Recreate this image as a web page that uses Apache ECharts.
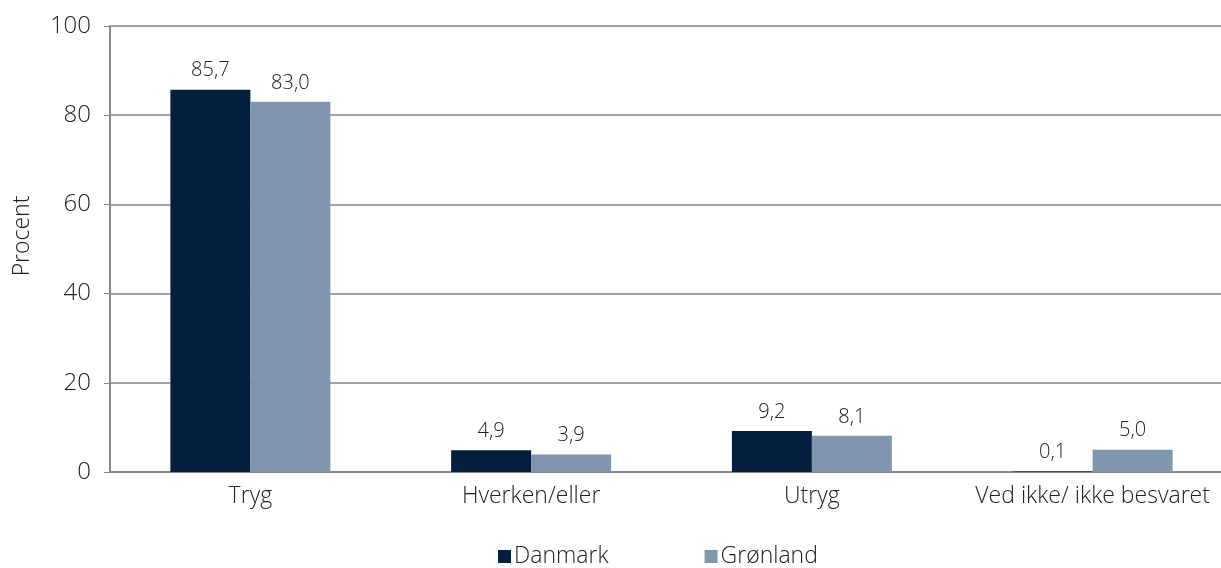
<!DOCTYPE html>
<html>
<head>
<meta charset="utf-8">
<script src="https://cdn.jsdelivr.net/npm/echarts@6/dist/echarts.min.js"></script>
<style>
  html, body { margin: 0; padding: 0; background: #fff; }
  #chart { width: 1221px; height: 568px; }
</style>
</head>
<body>
<div id="chart"></div>
<script>
var categories = ['Tryg', 'Hverken/eller', 'Utryg', 'Ved ikke/ ikke besvaret'];
var danmark = [85.7, 4.9, 9.2, 0.1];
var groenland = [83.0, 3.9, 8.1, 5.0];
var yTicks = [0, 20, 40, 60, 80, 100];

var font = 'Open Sans';
var fmt = function (p) { return p.value.toFixed(1).replace('.', ','); };

var myChart = echarts.init(document.getElementById('chart'));
var option = {
    animation: false,
    textStyle: { fontFamily: font, fontWeight: 300 },
    grid: { left: 110, right: -12, top: 26, bottom: 96, outerBoundsMode: 'none' },
    legend: {
        bottom: 0,
        left: 498,
        padding: 0,
        itemWidth: 13,
        itemHeight: 13,
        itemGap: 96,
        icon: 'rect',
        textStyle: { fontFamily: font, fontWeight: 300, fontSize: 23, color: '#222', padding: [0, 0, 0, -2] },
        data: ['Danmark', 'Grønland']
    },
    xAxis: {
        type: 'category',
        data: categories,
        axisLine: { lineStyle: { color: '#888', width: 2 } },
        axisTick: { length: 6, lineStyle: { color: '#888', width: 1 } },
        axisLabel: { interval: 0, fontFamily: font, fontWeight: 300, fontSize: 23, color: '#222', margin: 13 }
    },
    yAxis: {
        type: 'value',
        min: yTicks[0],
        max: yTicks[yTicks.length - 1],
        interval: 20,
        name: 'Procent',
        nameLocation: 'middle',
        nameGap: 76,
        nameTextStyle: { fontFamily: font, fontWeight: 300, fontSize: 23, color: '#222', padding: [0, 0, 0, 26] },
        axisLine: { show: true, lineStyle: { color: '#888', width: 2 } },
        axisTick: { show: true, length: 6, inside: false, lineStyle: { color: '#888', width: 1 } },
        axisLabel: { fontFamily: font, fontWeight: 300, fontSize: 24, color: '#222', margin: 19 },
        splitLine: { lineStyle: { color: '#a3a3a3', width: 2 } }
    },
    series: [
        {
            name: 'Danmark',
            type: 'bar',
            data: danmark,
            barWidth: 80,
            barGap: '0%',
            itemStyle: { color: '#031f3d' },
            label: { show: true, position: 'top', distance: 9, formatter: fmt,
                     fontFamily: font, fontWeight: 300, fontSize: 20, color: '#222' }
        },
        {
            name: 'Grønland',
            type: 'bar',
            data: groenland,
            barWidth: 80,
            barGap: '0%',
            itemStyle: { color: '#8095ae' },
            label: { show: true, position: 'top', distance: 9, formatter: fmt,
                     fontFamily: font, fontWeight: 300, fontSize: 20, color: '#222' }
        }
    ]
};
myChart.setOption(option);
</script>
</body>
</html>
